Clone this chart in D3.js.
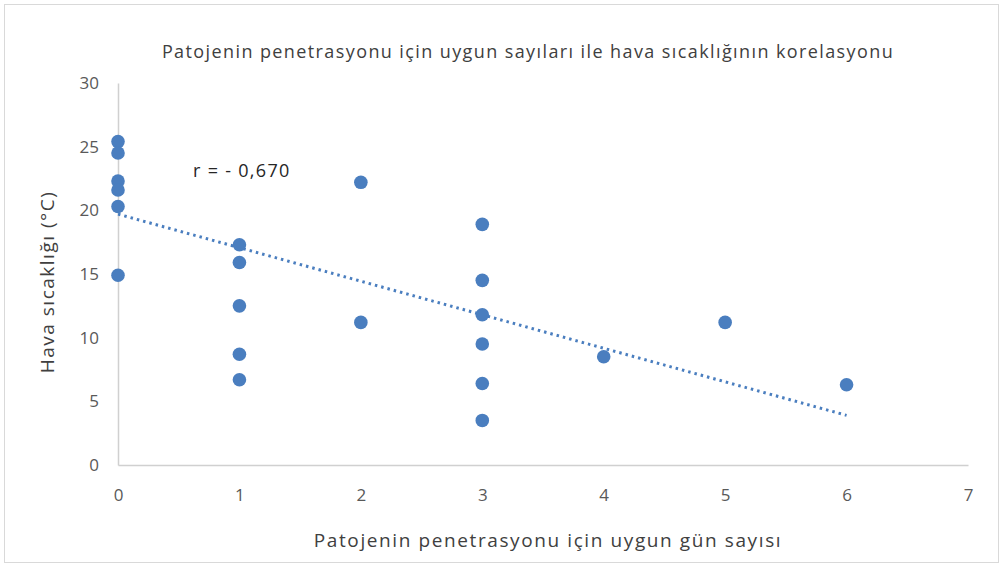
<!DOCTYPE html>
<html>
<head>
<meta charset="utf-8">
<script src="https://cdn.jsdelivr.net/npm/d3@7"></script>
<style>
  body { margin: 0; background: #fff; }
  text { font-family: "Open Sans", "Noto Sans", sans-serif; }
</style>
</head>
<body>
<svg id="chart"></svg>
<script>
var svgWidth = 1003,
    svgHeight = 567;

// data
var dayCounts = [0, 0, 0, 0, 0, 0, 1, 1, 1, 1, 1, 2, 2, 3, 3, 3, 3, 3, 3, 4, 5, 6];
var temps = [25.4, 24.5, 22.3, 21.6, 20.3, 14.9, 17.3, 15.9, 12.5, 8.7, 6.7, 22.2, 11.2, 18.9, 14.5, 11.8, 9.5, 6.4, 3.5, 8.5, 11.2, 6.3];
var trendX = [0, 6];
var trendY = [19.7, 3.9];
var xTicks = [0, 1, 2, 3, 4, 5, 6, 7];
var yTicks = [0, 5, 10, 15, 20, 25, 30];

var margin = {left: 118, right: 35, top: 83, bottom: 102};

var x = d3.scaleLinear()
    .domain([0, 7])
    .range([margin.left, svgWidth - margin.right]);

var y = d3.scaleLinear()
    .domain([0, 30])
    .range([svgHeight - margin.bottom, margin.top]);

var svg = d3.select('#chart')
    .attr('width', svgWidth)
    .attr('height', svgHeight);

// outer frame
svg.append('rect')
    .attr('x', 4.5).attr('y', 4.5)
    .attr('width', svgWidth - 9).attr('height', svgHeight - 9)
    .attr('fill', '#fff')
    .attr('stroke', '#d9d9d9');

// axes
var xAxis = svg.append('g')
    .attr('transform', 'translate(0,' + y(0) + ')')
    .call(d3.axisBottom(x).tickValues(xTicks).tickSize(0).tickPadding(24).tickFormat(d3.format('d')));

var yAxis = svg.append('g')
    .attr('transform', 'translate(' + x(0) + ',0)')
    .call(d3.axisLeft(y).tickValues(yTicks).tickSize(0).tickPadding(19).tickFormat(d3.format('d')));

[xAxis, yAxis].forEach(function(a) {
    a.select('.domain').attr('stroke', '#d0d0d0').attr('stroke-width', 1.5);
    a.selectAll('text')
        .attr('fill', '#595959')
        .style('font-size', '17px');
});

// trendline
var line = d3.line()
    .x(function(d) { return x(d[0]); })
    .y(function(d) { return y(d[1]); });

svg.append('path')
    .datum(trendX.map(function(v, i) { return [v, trendY[i]]; }))
    .attr('d', line)
    .attr('fill', 'none')
    .attr('stroke', '#4a7ebf')
    .attr('stroke-width', 3)
    .attr('stroke-dasharray', '2.5,4');

// points
svg.selectAll('.dot')
    .data(dayCounts)
    .enter().append('circle')
    .attr('class', 'dot')
    .attr('cx', function(d) { return x(d); })
    .attr('cy', function(d, i) { return y(temps[i]); })
    .attr('r', 6.8)
    .attr('fill', '#4a7ebf');

// title
svg.append('text')
    .attr('x', 528)
    .attr('y', 58)
    .attr('text-anchor', 'middle')
    .attr('fill', '#404040')
    .style('font-size', '18px')
    .style('letter-spacing', '1.4px')
    .text('Patojenin penetrasyonu için uygun sayıları ile hava sıcaklığının korelasyonu');

// annotation
svg.append('text')
    .attr('x', 193)
    .attr('y', 177)
    .attr('fill', '#262626')
    .style('font-size', '18px')
    .style('letter-spacing', '1.3px')
    .text('r = - 0,670');

// axis titles
svg.append('text')
    .attr('x', 548)
    .attr('y', 547)
    .attr('text-anchor', 'middle')
    .attr('fill', '#404040')
    .style('font-size', '19px')
    .style('letter-spacing', '1.6px')
    .text('Patojenin penetrasyonu için uygun gün sayısı');

svg.append('text')
    .attr('transform', 'translate(54,' + 282 + ') rotate(-90)')
    .attr('text-anchor', 'middle')
    .attr('fill', '#404040')
    .style('font-size', '19px')
    .style('letter-spacing', '1.5px')
    .text('Hava sıcaklığı (°C)');
</script>
</body>
</html>
